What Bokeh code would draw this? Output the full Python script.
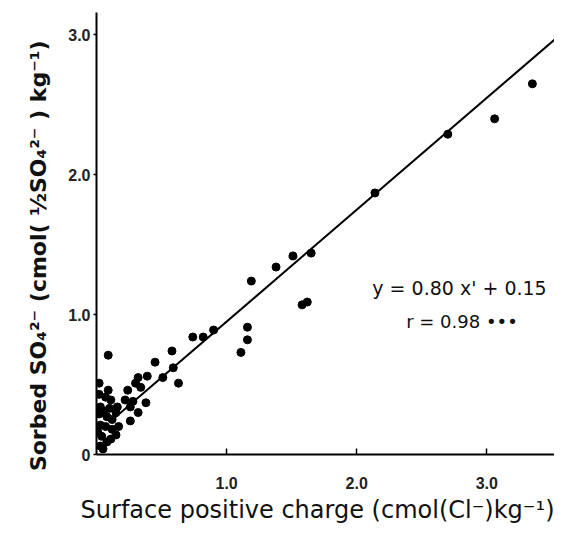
from bokeh.plotting import figure
from bokeh.models import Range1d, FixedTicker, Label, Title
from bokeh.embed import file_html
from bokeh.resources import INLINE

# Surface positive charge (cmol(Cl-) kg-1) and sorbed sulfate (cmol(1/2 SO4 2-) kg-1)
surface_charge = [
    0.02, 0.09, 0.07, 0.11, 0.16, 0.15, 0.12, 0.08, 0.03, 0.03, 0.07, 0.12,
    0.04, 0.08, 0.03, 0.05, 0.02, 0.17, 0.02, 0.11, 0.15, 0.01, 0.06, 0.10,
    0.24, 0.22, 0.28, 0.26, 0.38, 0.32, 0.26, 0.39, 0.32, 0.30, 0.34, 0.51,
    0.63, 0.45, 0.58, 0.59, 0.74, 0.82, 0.90, 0.09, 1.16, 1.16, 1.11, 1.19,
    1.38, 1.51, 1.65, 1.58, 1.62, 2.14, 2.70, 3.06, 3.35,
]
sorbed_so4 = [
    0.51, 0.46, 0.41, 0.39, 0.34, 0.30, 0.25, 0.27, 0.34, 0.21, 0.20, 0.18,
    0.13, 0.09, 0.06, 0.04, 0.43, 0.20, 0.29, 0.11, 0.14, 0.16, 0.31, 0.33,
    0.46, 0.39, 0.38, 0.34, 0.37, 0.30, 0.24, 0.56, 0.55, 0.51, 0.48, 0.55,
    0.51, 0.66, 0.74, 0.62, 0.84, 0.84, 0.89, 0.71, 0.91, 0.82, 0.73, 1.24,
    1.34, 1.42, 1.44, 1.07, 1.09, 1.87, 2.29, 2.40, 2.65,
]

# Regression given on the chart: y = 0.80 x' + 0.15
slope = 0.80
intercept = 0.15
fit_x = [0.12, 3.6]
fit_y = [slope * v + intercept for v in fit_x]

y_ticks = [0, 1, 2, 3]
y_tick_labels = {0: "0", 1: "1.0", 2: "2.0", 3: "3.0"}
x_ticks = [1, 2, 3]
x_tick_labels = {1: "1.0", 2: "2.0", 3: "3.0"}

x_title = "Surface positive charge (cmol(Cl\u207b)kg\u207b\u00b9)"
y_title = "Sorbed SO\u2084\u00b2\u207b (cmol( \u00bdSO\u2084\u00b2\u207b ) kg\u207b\u00b9)"
eq_text = "y = 0.80 x' + 0.15"
r_text = "r = 0.98 \u2022\u2022\u2022"

FONT = "Liberation Sans"
WIDE = "DejaVu Sans"
W, H = 554, 525

p = figure(
    width=W, height=H,
    output_backend="svg", toolbar_location=None,
    x_range=Range1d(0, 3.52), y_range=Range1d(0, 3.16),
    min_border_left=96, min_border_right=0,
    min_border_top=12, min_border_bottom=70,
)
p.outline_line_color = None
p.xgrid.visible = False
p.ygrid.visible = False
p.background_fill_color = "white"
p.border_fill_color = "white"

p.line(fit_x, fit_y, line_color="black", line_width=2)
p.scatter(surface_charge, sorbed_so4, size=8, fill_color="black", line_color="black")

for ax in (p.xaxis[0], p.yaxis[0]):
    ax.axis_line_width = 2
    ax.axis_line_color = "black"
    ax.major_tick_line_color = "black"
    ax.major_tick_line_width = 1.5
    ax.minor_tick_line_color = None
    ax.major_label_text_font = FONT
    ax.major_label_text_font_size = "16px"
    ax.major_label_text_font_style = "bold"
    ax.major_label_text_color = "#222222"

p.xaxis.ticker = FixedTicker(ticks=x_ticks)
p.xaxis.major_label_overrides = x_tick_labels
p.xaxis.major_tick_in = 6
p.xaxis.major_tick_out = 0
p.xaxis.major_label_standoff = 22

p.yaxis.ticker = FixedTicker(ticks=y_ticks)
p.yaxis.major_label_overrides = y_tick_labels
p.yaxis.major_tick_in = 0
p.yaxis.major_tick_out = 3
p.yaxis.major_label_standoff = 3

xt = Title(text=x_title, align="right", offset=0, standoff=4,
           text_font=WIDE, text_font_size="24px", text_font_style="normal",
           text_color="#111111")
yt = Title(text=y_title, align="right", offset=28, standoff=30,
           text_font=WIDE, text_font_size="22px", text_font_style="bold",
           text_color="#111111")
p.add_layout(xt, "below")
p.add_layout(yt, "left")

eq = Label(x=2.12, y=1.19, text=eq_text, text_font=WIDE,
           text_font_size="19px", text_baseline="middle", text_color="#111111")
rr = Label(x=2.38, y=0.95, text=r_text, text_font=WIDE,
           text_font_size="18px", text_baseline="middle", text_color="#111111")
p.add_layout(eq)
p.add_layout(rr)

open("out.html", "w").write(file_html(p, INLINE))
